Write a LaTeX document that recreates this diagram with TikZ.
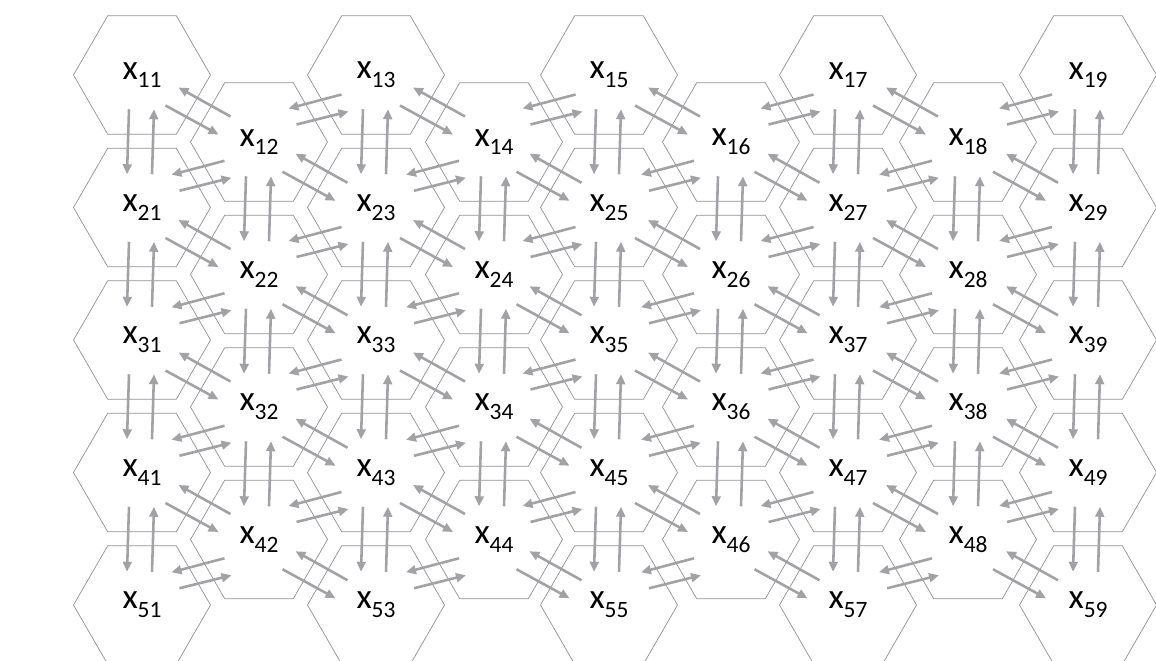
\documentclass[tikz,border=0pt]{standalone}
\usepackage{fontspec}
\setmainfont{Carlito}
\usetikzlibrary{shapes.geometric, arrows.meta, calc}

\definecolor{hexgray}{RGB}{145,145,145}
\definecolor{arrgray}{RGB}{160,162,166}

\newcommand\xs[1]{x\raisebox{-7.5pt}{\fontsize{20pt}{20pt}\selectfont #1}}

% two opposite arrows between neighbouring cells
\newcommand\vpair[2]{%
  \coordinate (m) at ($(#1.center)!.5!(#2.center)$);
  \draw[arrow] ([shift={(-13,-32)}]m) -- ([shift={(-15,33)}]m);
  \draw[arrow] ([shift={(10,33)}]m) -- ([shift={(12,-32)}]m);}
\newcommand\drpair[2]{%
  \coordinate (m) at ($(#1.center)!.5!(#2.center)$);
  \draw[arrow] ([shift={(30,8)}]m) -- ([shift={(-22,-21)}]m);
  \draw[arrow] ([shift={(-35,-3)}]m) -- ([shift={(18,26)}]m);}
\newcommand\urpair[2]{%
  \coordinate (m) at ($(#1.center)!.5!(#2.center)$);
  \draw[arrow] ([shift={(24,-14)}]m) -- ([shift={(-29,0)}]m);
  \draw[arrow] ([shift={(-21,16)}]m) -- ([shift={(31,3)}]m);}

\begin{document}
\begin{tikzpicture}[x=0.03cm, y=-0.03cm,
  cell/.style={regular polygon, regular polygon sides=6, minimum size=4.11cm,
               inner sep=0pt, draw=hexgray, line width=0.6pt,
               font=\fontsize{30pt}{30pt}\selectfont},
  arrow/.style={-{Triangle[length=8.5pt, width=7.5pt]}, line width=2.2pt, draw=arrgray}
]

\useasboundingbox (0,0) rectangle (1156,660);

% cells, odd columns high, even columns half a row lower
\foreach \j/\x in {1/142, 3/376, 5/609, 7/848, 9/1088}
  \foreach \i in {1,...,5}
    \node[cell] (n\i\j) at (\x, {75+132.5*(\i-1)}) {\xs{\i\j}};
\foreach \j/\x in {2/259, 4/494, 6/731, 8/968}
  \foreach \i in {1,...,4}
    \node[cell] (n\i\j) at (\x, {142+132.5*(\i-1)}) {\xs{\i\j}};

% up and down in a column
\foreach \j/\rows in {1/4, 3/4, 5/4, 7/4, 9/4, 2/3, 4/3, 6/3, 8/3} {
  \foreach \i [evaluate=\i as \k using int(\i+1)] in {1,...,\rows} {
    \vpair{n\i\j}{n\k\j}
  }
}

% odd column to the even column on its right
\foreach \j [evaluate=\j as \jj using int(\j+1)] in {1,3,5,7} {
  \foreach \i [evaluate=\i as \k using int(\i+1)] in {1,...,4} {
    \drpair{n\i\j}{n\i\jj}
    \urpair{n\k\j}{n\i\jj}
  }
}
% even column to the odd column on its right
\foreach \j [evaluate=\j as \jj using int(\j+1)] in {2,4,6,8} {
  \foreach \i [evaluate=\i as \k using int(\i+1)] in {1,...,4} {
    \drpair{n\i\j}{n\k\jj}
    \urpair{n\i\j}{n\i\jj}
  }
}

\end{tikzpicture}
\end{document}
